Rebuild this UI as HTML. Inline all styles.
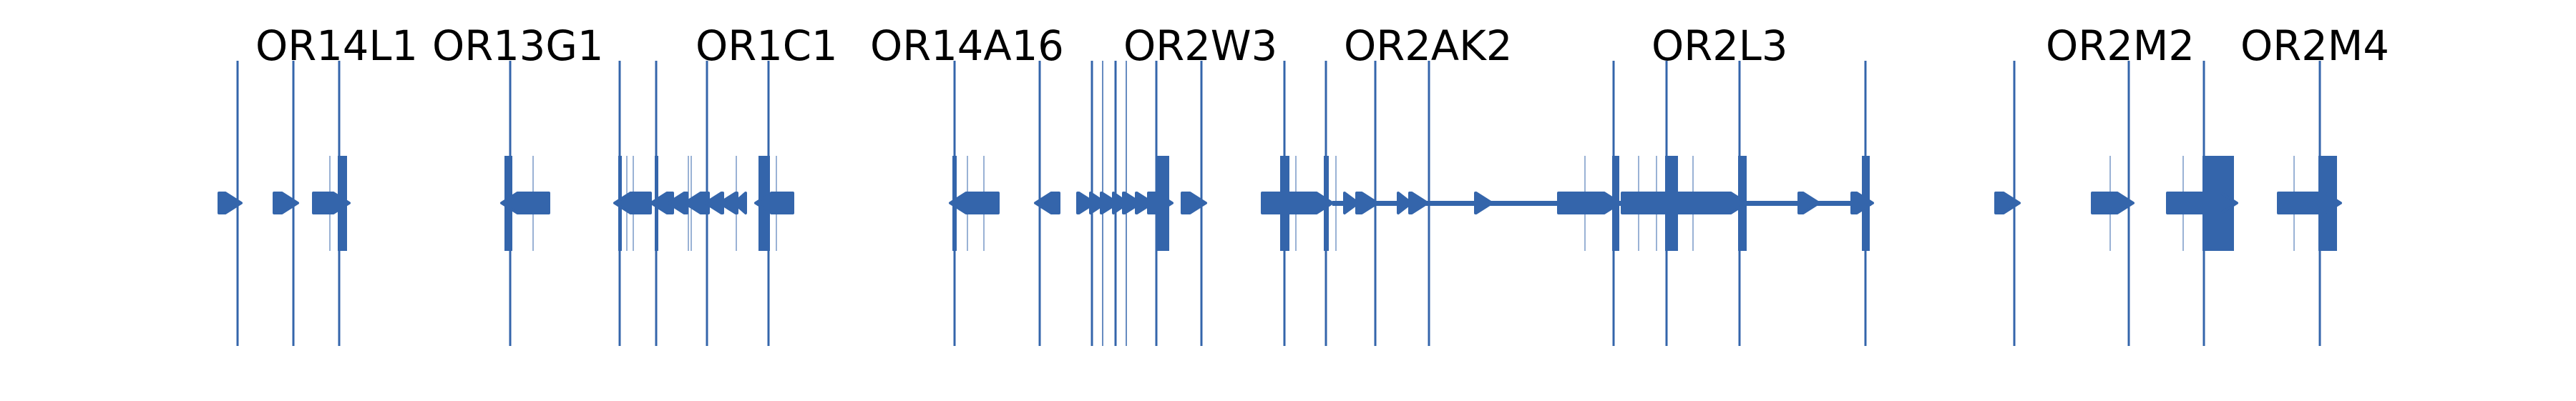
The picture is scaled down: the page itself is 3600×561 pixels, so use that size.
<!DOCTYPE html>
<html><head><meta charset="utf-8"><style>html,body{margin:0;padding:0;background:#fff}svg{display:block}</style></head>
<body>
<svg width="3600" height="561" viewBox="0 0 3600 561" xmlns="http://www.w3.org/2000/svg">
<g font-family="DejaVu Sans, Liberation Sans, sans-serif" font-size="57.5" fill="#000">
<text x="357" y="84">OR14L1</text>
<text x="604" y="84">OR13G1</text>
<text x="972" y="84">OR1C1</text>
<text x="1216" y="84">OR14A16</text>
<text x="1570" y="84">OR2W3</text>
<text x="1878" y="84">OR2AK2</text>
<text x="2308" y="84">OR2L3</text>
<text x="2859" y="84">OR2M2</text>
<text x="3131" y="84">OR2M4</text>
</g>
<g stroke="#3465ab" stroke-width="3">
<line x1="332" y1="85" x2="332" y2="484"/><line x1="410" y1="85" x2="410" y2="484"/><line x1="474" y1="85" x2="474" y2="484"/>
<line x1="713" y1="85" x2="713" y2="484"/><line x1="866" y1="85" x2="866" y2="484"/><line x1="917" y1="85" x2="917" y2="484"/>
<line x1="988" y1="85" x2="988" y2="484"/><line x1="1074" y1="85" x2="1074" y2="484"/><line x1="1334" y1="85" x2="1334" y2="484"/>
<line x1="1453" y1="85" x2="1453" y2="484"/><line x1="1526" y1="85" x2="1526" y2="484"/><line x1="1541" y1="85" x2="1541" y2="484" stroke-width="1.5"/>
<line x1="1559" y1="85" x2="1559" y2="484"/><line x1="1574" y1="85" x2="1574" y2="484" stroke-width="1.5"/><line x1="1616" y1="85" x2="1616" y2="484"/>
<line x1="1679" y1="85" x2="1679" y2="484"/><line x1="1795" y1="85" x2="1795" y2="484"/><line x1="1853" y1="85" x2="1853" y2="484"/>
<line x1="1922" y1="85" x2="1922" y2="484"/><line x1="1997" y1="85" x2="1997" y2="484"/><line x1="2255" y1="85" x2="2255" y2="484"/>
<line x1="2329" y1="85" x2="2329" y2="484"/><line x1="2431" y1="85" x2="2431" y2="484"/><line x1="2607" y1="85" x2="2607" y2="484"/>
<line x1="2815" y1="85" x2="2815" y2="484"/><line x1="2975" y1="85" x2="2975" y2="484"/><line x1="3080" y1="85" x2="3080" y2="484"/>
<line x1="3242" y1="85" x2="3242" y2="484"/>
</g>
<g stroke="#3465ab" stroke-width="1">
<line x1="461" y1="218" x2="461" y2="351"/><line x1="745" y1="218" x2="745" y2="351"/><line x1="876" y1="218" x2="876" y2="351"/>
<line x1="885" y1="218" x2="885" y2="351"/><line x1="962" y1="218" x2="962" y2="351"/><line x1="966" y1="218" x2="966" y2="351"/>
<line x1="1029" y1="218" x2="1029" y2="351"/><line x1="1085" y1="218" x2="1085" y2="351"/><line x1="1352" y1="218" x2="1352" y2="351"/>
<line x1="1375" y1="218" x2="1375" y2="351"/><line x1="1811" y1="218" x2="1811" y2="351"/><line x1="1867" y1="218" x2="1867" y2="351"/>
<line x1="2215" y1="218" x2="2215" y2="351"/><line x1="2290" y1="218" x2="2290" y2="351"/><line x1="2315" y1="218" x2="2315" y2="351"/>
<line x1="2366" y1="218" x2="2366" y2="351"/><line x1="2949" y1="218" x2="2949" y2="351"/><line x1="3051" y1="218" x2="3051" y2="351"/>
<line x1="3206" y1="218" x2="3206" y2="351"/>
</g>
<g fill="#3465ab">
<rect x="472" y="218" width="13" height="133"/><rect x="705" y="218" width="11" height="133"/><rect x="864" y="218" width="5" height="133"/>
<rect x="915" y="218" width="5" height="133"/><rect x="1060" y="218" width="16" height="133"/><rect x="1331" y="218" width="6" height="133"/>
<rect x="1616" y="218" width="18" height="133"/><rect x="1789" y="218" width="13" height="133"/><rect x="1850" y="218" width="7" height="133"/>
<rect x="2253" y="218" width="10" height="133"/><rect x="2327" y="218" width="18" height="133"/><rect x="2429" y="218" width="12" height="133"/>
<rect x="2602" y="218" width="11" height="133"/><rect x="3078" y="218" width="44" height="133"/><rect x="3240" y="218" width="26" height="133"/>
<rect x="1862" y="281" width="753" height="7"/>
</g>
<g fill="#3465ab" stroke="#3465ab" stroke-width="4" stroke-linejoin="round">
<polygon points="306,270 315,270 337,284 315,298 306,298"/>
<polygon points="383,270 394,270 416,284 394,298 383,298"/>
<polygon points="438,270 466,270 488,284 466,298 438,298"/>
<polygon points="767,270 723,270 701,284 723,298 767,298"/>
<polygon points="909,270 881,270 859,284 881,298 909,298"/>
<polygon points="940,270 932,270 910,284 932,298 940,298"/>
<polygon points="960,270 956,270 934,284 956,298 960,298"/>
<polygon points="990,270 979,270 957,284 979,298 990,298"/>
<polygon points="1010,270 1008,270 986,284 1008,298 1010,298"/>
<polygon points="1030,270 1028,270 1006,284 1028,298 1030,298"/>
<polygon points="1042,270 1042,270 1026,284 1042,298 1042,298"/>
<polygon points="1108,270 1078,270 1056,284 1078,298 1108,298"/>
<polygon points="1395,270 1350,270 1328,284 1350,298 1395,298"/>
<polygon points="1480,270 1469,270 1447,284 1469,298 1480,298"/>
<polygon points="1506,270 1508,270 1530,284 1508,298 1506,298"/>
<polygon points="1524,270 1524,270 1545,284 1524,298"/>
<polygon points="1539,270 1540,270 1562,284 1540,298 1539,298"/>
<polygon points="1556,270 1576,284 1556,298"/>
<polygon points="1570,270 1572,270 1594,284 1572,298 1570,298"/>
<polygon points="1588,270 1589,270 1611,284 1589,298 1588,298"/>
<polygon points="1605,270 1616,270 1638,284 1616,298 1605,298"/>
<polygon points="1652,270 1663,270 1685,284 1663,298 1652,298"/>
<polygon points="1764,270 1840,270 1862,284 1840,298 1764,298"/>
<polygon points="1879,270 1898,284 1879,298"/>
<polygon points="1896,270 1903,270 1925,284 1903,298 1896,298"/>
<polygon points="1954,270 1972,284 1954,298"/>
<polygon points="1970,270 1973,270 1995,284 1973,298 1970,298"/>
<polygon points="2062,270 2063,270 2085,284 2063,298 2062,298"/>
<polygon points="2514,270 2520,270 2542,284 2520,298 2514,298"/>
<polygon points="2588,270 2595,270 2617,284 2595,298 2588,298"/>
<polygon points="2178,270 2242,270 2264,284 2242,298 2178,298"/>
<polygon points="2267,270 2419,270 2441,284 2419,298 2267,298"/>
<polygon points="2789,270 2800,270 2822,284 2800,298 2789,298"/>
<polygon points="2924,270 2959,270 2981,284 2959,298 2924,298"/>
<polygon points="3029,270 3104,270 3126,284 3104,298 3029,298"/>
<polygon points="3184,270 3249,270 3271,284 3249,298 3184,298"/>
</g>
</svg>
</body></html>
